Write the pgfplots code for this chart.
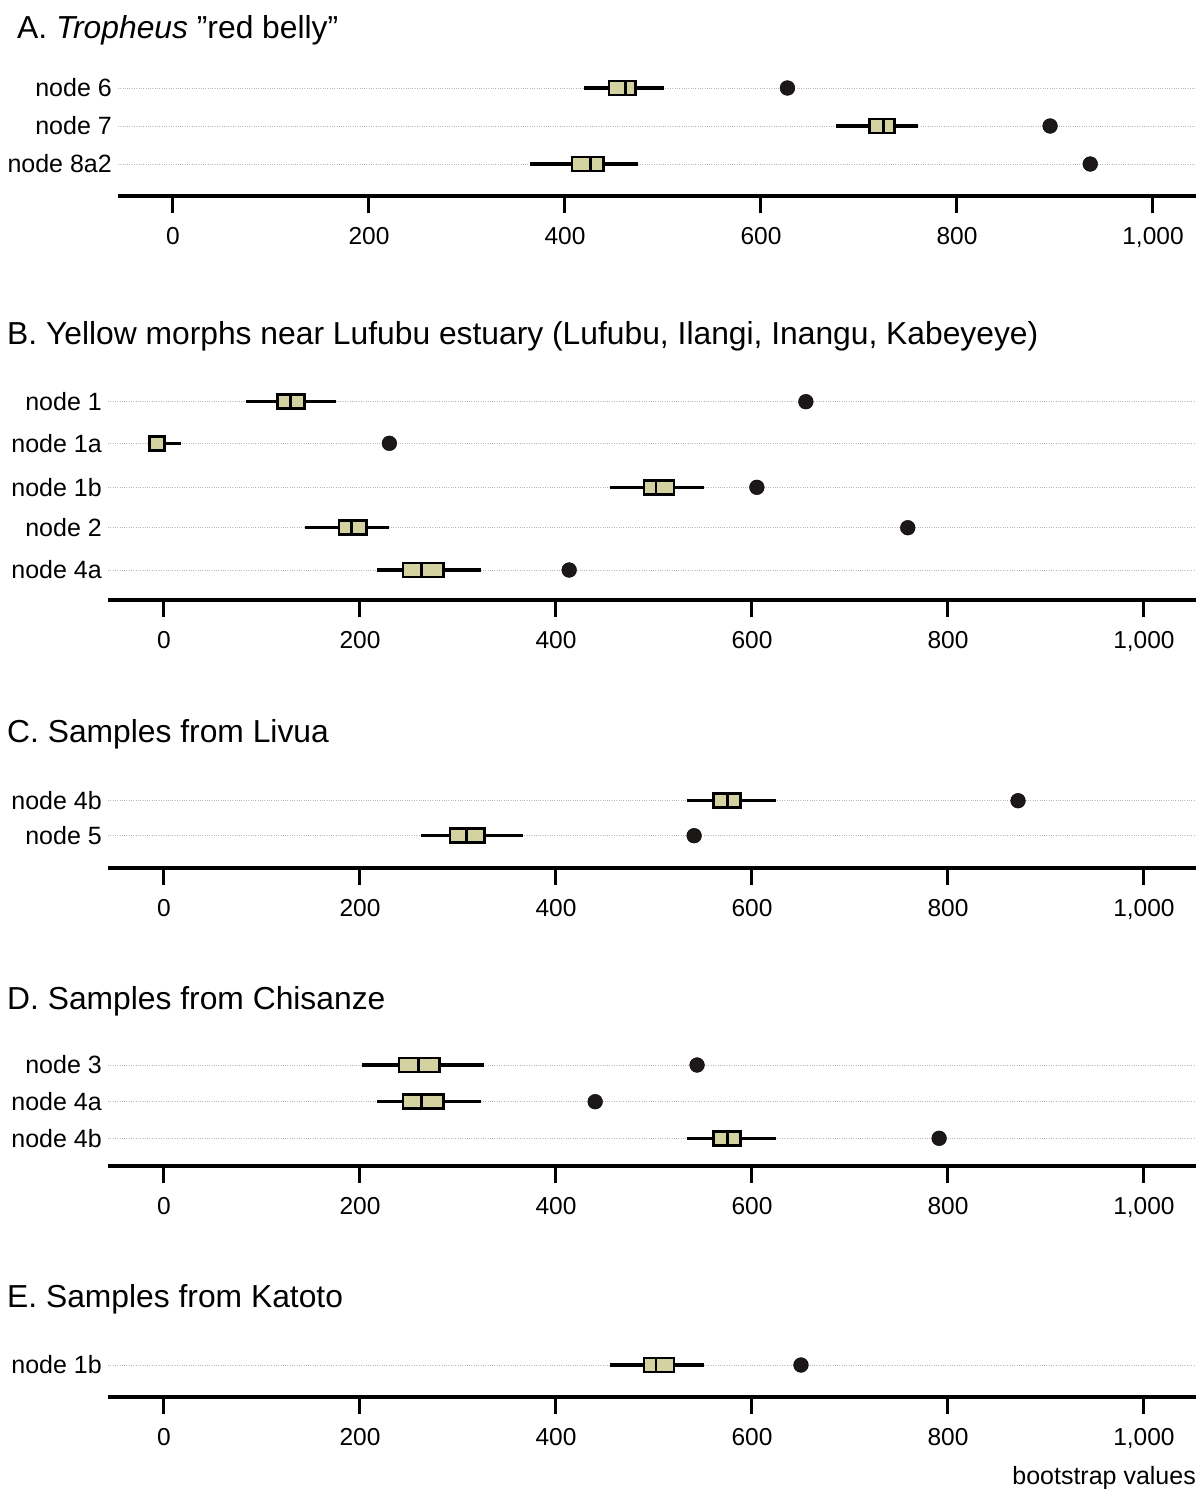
\documentclass[border=0pt]{standalone}
\usepackage{fontspec}
\setmainfont{Liberation Sans}
\usepackage{pgfplots}
\pgfplotsset{compat=1.18}
\usepgfplotslibrary{statistics}
\definecolor{boxfill}{RGB}{212,210,160}
\definecolor{dotc}{RGB}{28,24,24}
\pgfplotsset{
 panel/.style={
  scale only axis, clip=false, anchor=south west,
  axis x line*=bottom, axis y line*=left,
  y axis line style={draw=none},
  x axis line style={line width=3.3pt, -},
  xtick={0,200,400,600,800,1000},
  xticklabels={0,200,400,600,800,{1,000}},
  xtick style={line width=3pt, black},
  ytick style={draw=none},
  tick align=outside,
  major tick length=17pt,
  ymajorgrids,
  grid style={gray!55, line width=0.9pt, dash pattern=on 1pt off 1.3pt},
  xticklabel style={font=\fontsize{24.5}{28}\selectfont, yshift=-11pt},
  yticklabel style={font=\fontsize{25}{28}\selectfont, inner sep=0pt, xshift=11pt},
  boxplot/box extend=14, boxplot/whisker extend=0,
  boxplot/every whisker/.style={line width=3.2pt, draw=black},
  boxplot/every box/.style={line width=2.6pt, draw=black, fill=boxfill},
  boxplot/every median/.style={line width=2.6pt, draw=black},
 },
 bx/.style={draw=black, fill=boxfill, line width=2.6pt},
 pt/.style={only marks, mark=*, mark size=7.4pt, mark options={draw=none, fill=dotc}},
 wideB/.style={width=1088pt, xmin=-57.1, xmax=1053.1},
}
\begin{document}
\begin{tikzpicture}
\useasboundingbox (0,0) rectangle (1196pt,-1489pt);
\tikzset{ttl/.style={anchor=base west, inner sep=0pt, font=\fontsize{31.8}{36}\selectfont}}
% ---------------- A
\node[ttl] at (17pt,-38pt) {A. \textit{Tropheus} ”red belly”};
\begin{axis}[panel, at={(118pt,-196pt)}, width=1078pt, height=136pt,
  xmin=-56.12, xmax=1043.9, ymin=-196, ymax=-60,
  ytick={-164,-126,-88}, yticklabels={node 8a2,node 7,node 6}]
\addplot[bx, boxplot prepared={lower whisker=419, lower quartile=445, median=462, upper quartile=472, upper whisker=501, draw position=-88}] coordinates {};
\addplot[bx, boxplot prepared={lower whisker=677, lower quartile=711, median=725, upper quartile=736, upper whisker=760, draw position=-126}] coordinates {};
\addplot[bx, boxplot prepared={lower whisker=364, lower quartile=407, median=426, upper quartile=439, upper whisker=475, draw position=-164}] coordinates {};
\addplot[pt] coordinates {(627,-88) (895,-126) (936,-164)};
\end{axis}
% ---------------- B
\node[ttl] at (7pt,-344pt) {B. Yellow morphs near Lufubu estuary (Lufubu, Ilangi, Inangu, Kabeyeye)};
\begin{axis}[panel, wideB, at={(108pt,-600pt)}, height=220pt,
  ymin=-600, ymax=-380,
  ytick={-570,-527.7,-487.3,-443.3,-401.7}, yticklabels={node 4a,node 2,node 1b,node 1a,node 1}]
\addplot[bx, boxplot prepared={lower whisker=84, lower quartile=116, median=129, upper quartile=143.5, upper whisker=176, draw position=-401.7}] coordinates {};
\addplot[bx, boxplot prepared={lower whisker=-14.5, lower quartile=-14.5, median=0.5, upper quartile=0.5, upper whisker=17, draw position=-443.3}] coordinates {};
\addplot[bx, boxplot prepared={lower whisker=455, lower quartile=490, median=502, upper quartile=520.5, upper whisker=551, draw position=-487.3}] coordinates {};
\addplot[bx, boxplot prepared={lower whisker=144, lower quartile=178.5, median=191.5, upper quartile=206.5, upper whisker=230, draw position=-527.7}] coordinates {};
\addplot[bx, boxplot prepared={lower whisker=217, lower quartile=244, median=263, upper quartile=285, upper whisker=324, draw position=-570}] coordinates {};
\addplot[pt] coordinates {(655,-401.7) (230,-443.3) (605,-487.3) (759,-527.7) (413.5,-570)};
\end{axis}
% ---------------- C
\node[ttl] at (7pt,-742pt) {C. Samples from Livua};
\begin{axis}[panel, wideB, at={(108pt,-868pt)}, height=88pt,
  ymin=-868, ymax=-780,
  ytick={-835.7,-800.7}, yticklabels={node 5,node 4b}]
\addplot[bx, boxplot prepared={lower whisker=533.5, lower quartile=561, median=575, upper quartile=588, upper whisker=625, draw position=-800.7}] coordinates {};
\addplot[bx, boxplot prepared={lower whisker=262, lower quartile=292, median=309, upper quartile=327, upper whisker=366, draw position=-835.7}] coordinates {};
\addplot[pt] coordinates {(871.5,-800.7) (541,-835.7)};
\end{axis}
% ---------------- D
\node[ttl] at (7pt,-1009pt) {D. Samples from Chisanze};
\begin{axis}[panel, wideB, at={(108pt,-1166pt)}, height=121pt,
  ymin=-1166, ymax=-1045,
  ytick={-1138.3,-1101.7,-1065}, yticklabels={node 4b,node 4a,node 3}]
\addplot[bx, boxplot prepared={lower whisker=202, lower quartile=240, median=259.5, upper quartile=281, upper whisker=327, draw position=-1065}] coordinates {};
\addplot[bx, boxplot prepared={lower whisker=217.5, lower quartile=244, median=263, upper quartile=285, upper whisker=323.5, draw position=-1101.7}] coordinates {};
\addplot[bx, boxplot prepared={lower whisker=533.5, lower quartile=561, median=575, upper quartile=588, upper whisker=625, draw position=-1138.3}] coordinates {};
\addplot[pt] coordinates {(544,-1065) (440,-1101.7) (791,-1138.3)};
\end{axis}
% ---------------- E
\node[ttl] at (7pt,-1307pt) {E. Samples from Katoto};
\begin{axis}[panel, wideB, at={(108pt,-1397pt)}, height=52pt,
  ymin=-1397, ymax=-1345,
  ytick={-1365}, yticklabels={node 1b}]
\addplot[bx, boxplot prepared={lower whisker=455, lower quartile=490, median=502, upper quartile=520.5, upper whisker=551, draw position=-1365}] coordinates {};
\addplot[pt] coordinates {(650,-1365)};
\end{axis}
\node[anchor=base east, inner sep=0pt, font=\fontsize{25}{30}\selectfont] at (1196pt,-1484pt) {bootstrap values};
\end{tikzpicture}
\end{document}
